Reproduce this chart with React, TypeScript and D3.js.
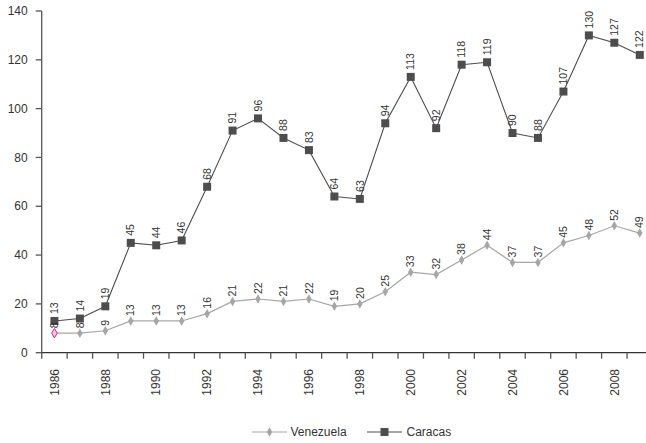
import React, { useEffect, useRef } from 'react';
import * as d3 from 'd3';

const years = [1986, 1987, 1988, 1989, 1990, 1991, 1992, 1993, 1994, 1995, 1996, 1997,
  1998, 1999, 2000, 2001, 2002, 2003, 2004, 2005, 2006, 2007, 2008, 2009];
const venezuela = [8, 8, 9, 13, 13, 13, 16, 21, 22, 21, 22, 19, 20, 25, 33, 32, 38, 44, 37, 37, 45, 48, 52, 49];
const caracas = [13, 14, 19, 45, 44, 46, 68, 91, 96, 88, 83, 64, 63, 94, 113, 92, 118, 119, 90, 88, 107, 130, 127, 122];
const yTicks = [0, 20, 40, 60, 80, 100, 120, 140];

const FONT = '"Liberation Sans", Arial, sans-serif';

export default function App() {
  const svgRef = useRef<SVGSVGElement>(null);

  useEffect(() => {
    if (!svgRef.current) return;
    const svg = d3.select(svgRef.current);
    svg.selectAll('*').remove();

    const x = d3.scaleBand<number>().domain(years).range([41.7, 652.5]);
    const y = d3.scaleLinear().domain([0, 140]).range([352.7, 11]);
    const cx = (d: number) => (x(d) as number) + x.bandwidth() / 2;

    // y axis
    const gy = svg.append('g').attr('transform', 'translate(41.7,0)');
    gy.append('line').attr('y1', y(0)).attr('y2', y(140)).attr('stroke', '#555').attr('stroke-width', 1.3);
    yTicks.forEach(t => {
      gy.append('line').attr('x1', -6).attr('x2', 0).attr('y1', y(t)).attr('y2', y(t))
        .attr('stroke', '#555').attr('stroke-width', 1.3);
      gy.append('text').attr('x', -14).attr('y', y(t)).attr('dy', '0.35em')
        .attr('text-anchor', 'end').attr('fill', '#333').style('font-size', '12px').text(t);
    });

    // x axis
    const gx = svg.append('g');
    gx.append('line').attr('x1', 41.7).attr('x2', 652.5).attr('y1', y(0)).attr('y2', y(0))
      .attr('stroke', '#333').attr('stroke-width', 1.3);
    years.forEach((yr, i) => {
      gx.append('line').attr('x1', x(yr) as number).attr('x2', x(yr) as number)
        .attr('y1', y(0)).attr('y2', y(0) + 6).attr('stroke', '#555').attr('stroke-width', 1.3);
      if (i % 2 === 0) {
        gx.append('text')
          .attr('transform', `translate(${cx(yr)},369) rotate(-90)`)
          .attr('dy', '0.35em').attr('text-anchor', 'end').attr('fill', '#333')
          .style('font-size', '12px').text(yr);
      }
    });

    const line = d3.line<number>().x((_, i) => cx(years[i])).y(d => y(d));
    const diamond = d3.symbol().type(d3.symbolDiamond).size(26);

    // Venezuela
    svg.append('path').datum(venezuela).attr('fill', 'none').attr('stroke', '#a6a6a6')
      .attr('stroke-width', 1.2).attr('d', line);
    venezuela.forEach((v, i) => {
      svg.append('path').attr('d', diamond)
        .attr('transform', `translate(${cx(years[i])},${y(v)})`)
        .attr('fill', i === 0 ? '#f7c6e0' : '#a6a6a6')
        .attr('stroke', i === 0 ? '#e0208a' : 'none').attr('stroke-width', 1);
    });

    // Caracas
    svg.append('path').datum(caracas).attr('fill', 'none').attr('stroke', '#4d4d4d')
      .attr('stroke-width', 1.1).attr('d', line);
    caracas.forEach((v, i) => {
      svg.append('rect').attr('x', cx(years[i]) - 4).attr('y', y(v) - 4)
        .attr('width', 8).attr('height', 8).attr('fill', '#4d4d4d');
    });

    // data labels on top of everything
    venezuela.forEach((v, i) => {
      svg.append('text')
        .attr('transform', `translate(${cx(years[i])},${y(v) - 5}) rotate(-90)`)
        .attr('dy', '0.35em').attr('fill', '#333').style('font-size', '10.5px').text(v);
    });
    caracas.forEach((v, i) => {
      svg.append('text')
        .attr('transform', `translate(${cx(years[i])},${y(v) - 7}) rotate(-90)`)
        .attr('dy', '0.35em').attr('fill', '#333').style('font-size', '10.5px').text(v);
    });

    // legend
    const lg = svg.append('g').attr('transform', 'translate(0,432)');
    lg.append('line').attr('x1', 252).attr('x2', 287).attr('stroke', '#a6a6a6').attr('stroke-width', 1.2);
    lg.append('path').attr('d', diamond).attr('transform', 'translate(269.5,0)').attr('fill', '#a6a6a6');
    lg.append('text').attr('x', 290.5).attr('dy', '0.35em').attr('fill', '#333')
      .style('font-size', '12px').text('Venezuela');
    lg.append('line').attr('x1', 367).attr('x2', 402).attr('stroke', '#4d4d4d').attr('stroke-width', 1.1);
    lg.append('rect').attr('x', 380.5).attr('y', -4).attr('width', 8).attr('height', 8).attr('fill', '#4d4d4d');
    lg.append('text').attr('x', 406.5).attr('dy', '0.35em').attr('fill', '#333')
      .style('font-size', '12px').text('Caracas');
  }, []);

  return (
    <svg ref={svgRef} width={646} height={443}
      style={{ position: 'absolute', left: 0, top: 0, background: '#fff', fontFamily: FONT }} />
  );
}
